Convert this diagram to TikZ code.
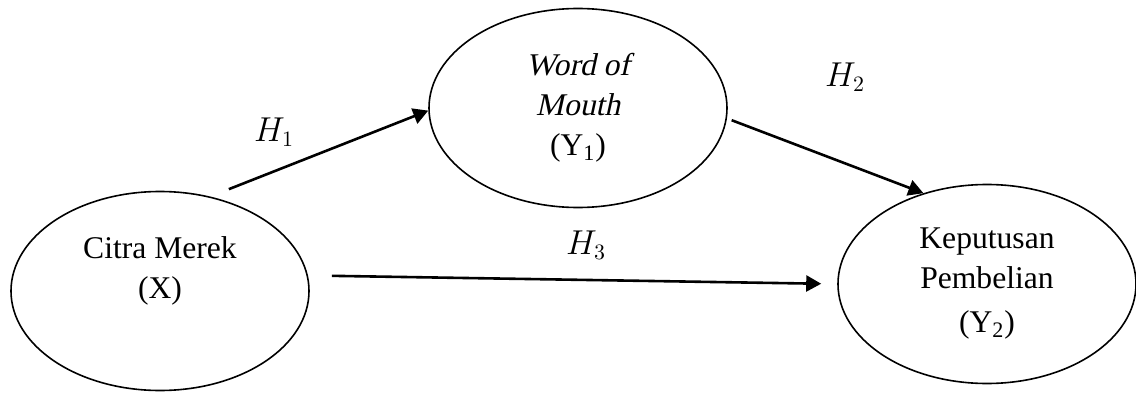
\documentclass[tikz,border=0pt]{standalone}
\usepackage{fontspec}
\setmainfont{Liberation Serif}
\newfontfamily\slantserif{Liberation Serif}[FakeSlant=0.22]
\usepackage{tikz}
\usetikzlibrary{positioning, arrows.meta, shapes.geometric}
\tikzset{
  varbox/.style={
    ellipse, draw=black, line width=0.8pt,
    fill=white,
    minimum width=149pt, minimum height=99.5pt,
    align=center, font=\fontsize{15.8}{20}\selectfont, inner sep=0pt
  },
  hyplabel/.style={
    font=\fontsize{16}{18}\selectfont, inner sep=0pt
  },
  hyparrow/.style={
    -{Triangle[length=7.5pt, width=8pt]}, draw=black, line width=1.3pt
  }
}

\begin{document}
\begin{tikzpicture}[x=0.5pt, y=0.5pt]
  \useasboundingbox (0,0) rectangle (1136,392);

  \node[varbox] (cm)  at (160,101) {Citra Merek\\(X)\\[-3pt]\strut};
  \node[varbox] (wom) at (578,284) {{\slantserif Word of}\\{\slantserif Mouth}\\(Y\textsubscript{1})};
  \node[varbox] (kp)  at (987,108) {Keputusan\\Pembelian\\[2pt](Y\textsubscript{2})};

  \node[hyplabel] (h1) at (274,260) {$H_1$};
  \node[hyplabel] (h2) at (845,315) {$H_2$};
  \node[hyplabel] (h3) at (586,147) {$H_3$};

  \draw[hyparrow, shorten <=10pt] (cm.62) -- (wom.181);
  \draw[hyparrow, shorten <=2.5pt] (wom.356.7) -- (kp.125);
  \draw[hyparrow, shorten <=12pt, shorten >=8pt] (cm.6.5) -- (kp.180);
\end{tikzpicture}
\end{document}
